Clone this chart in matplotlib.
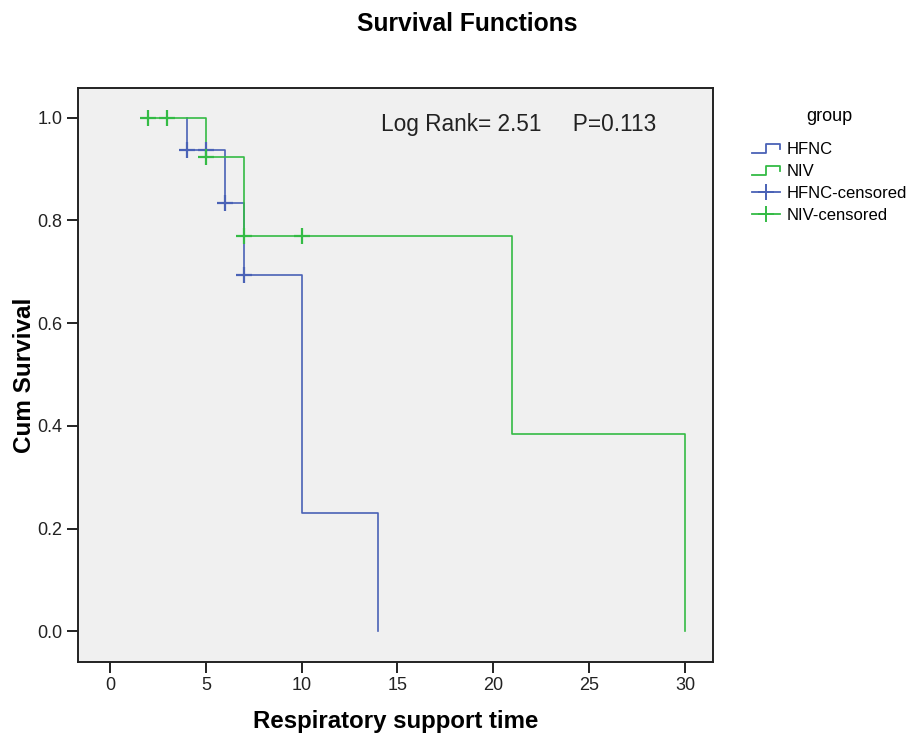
import matplotlib
matplotlib.use("Agg")
import matplotlib.pyplot as plt
from matplotlib.lines import Line2D
from matplotlib.legend_handler import HandlerBase

plt.rcParams['font.family'] = ['Liberation Sans', 'DejaVu Sans']

# Kaplan-Meier step curves
hfnc_t = [4, 4, 6, 7, 10, 14]
hfnc_s = [1.0, 0.938, 0.833, 0.694, 0.231, 0.0]
niv_t = [2, 5, 7, 21, 30]
niv_s = [1.0, 0.923, 0.769, 0.385, 0.0]

# censored observations
hfnc_cens_t = [4, 5, 6, 7]
hfnc_cens_s = [0.938, 0.938, 0.833, 0.694]
niv_cens_t = [2, 3, 5, 7, 10]
niv_cens_s = [1.0, 1.0, 0.923, 0.769, 0.769]

xticks = [0, 5, 10, 15, 20, 25, 30]
yticks = [0.0, 0.2, 0.4, 0.6, 0.8, 1.0]
legend_labels = ["HFNC", "NIV", "HFNC-censored", "NIV-censored"]

blue = "#4a62b6"
green = "#34bb45"


class StepHandler(HandlerBase):
    # small step glyph like the SPSS legend
    def create_artists(self, legend, orig_handle, xdescent, ydescent,
                       width, height, fontsize, trans):
        x0 = -xdescent
        y0 = -ydescent
        xs = [x0, x0 + 0.5 * width, x0 + 0.5 * width, x0 + width, x0 + width]
        ys = [y0 + 0.1 * height, y0 + 0.1 * height, y0 + 0.85 * height,
              y0 + 0.85 * height, y0 + 0.45 * height]
        ln = Line2D(xs, ys, color=orig_handle.get_color(), lw=1.3, transform=trans)
        return [ln]


fig = plt.figure(figsize=(9.11, 7.36), dpi=100)
ax = fig.add_axes([0.0856, 0.1005, 0.697, 0.780])
ax.set_facecolor("#f0f0f0")

l1, = ax.step(hfnc_t, hfnc_s, where="post", color=blue, lw=1.2)
l2, = ax.step(niv_t, niv_s, where="post", color=green, lw=1.2)
ax.plot(hfnc_cens_t, hfnc_cens_s, ls="none", marker="+", ms=11, mew=1.6, color=blue)
ax.plot(niv_cens_t, niv_cens_s, ls="none", marker="+", ms=11, mew=1.6, color=green)

ax.set_xlim(-1.67, 31.46)
ax.set_ylim(-0.06, 1.058)
ax.set_xticks(xticks)
ax.set_yticks(yticks)
ax.set_yticklabels([f"{v:.1f}" for v in yticks])
ax.tick_params(axis="both", direction="out", length=8, width=1.4, labelsize=13,
               colors="#222222", pad=3)
for sp in ax.spines.values():
    sp.set_linewidth(1.4)
    sp.set_color("#222222")

ax.set_xlabel("Respiratory support time", fontsize=17.3, fontweight="bold")
ax.set_ylabel("Cum Survival", fontsize=17.5, fontweight="bold")
ax.xaxis.set_label_coords(0.5, -0.083)
ax.yaxis.set_label_coords(-0.066, 0.5)

ax.text(14.14, 0.987, "Log Rank= 2.51     P=0.113", fontsize=16.3, va="center",
        ha="left", color="#222222")

fig.text(0.5126, 0.968, "Survival Functions", fontsize=17.7, fontweight="bold",
         ha="center", va="center")

h3 = Line2D([], [], color=blue, lw=1.3, marker="+", ms=11, mew=1.4)
h4 = Line2D([], [], color=green, lw=1.3, marker="+", ms=11, mew=1.4)
leg = fig.legend([l1, l2, h3, h4], legend_labels, title="group",
                 loc="upper left", bbox_to_anchor=(0.8255, 0.853),
                 frameon=False, fontsize=12, title_fontsize=13,
                 borderpad=0, borderaxespad=0,
                 handlelength=1.7, handletextpad=0.4, labelspacing=0.42,
                 handler_map={l1: StepHandler(), l2: StepHandler()})
leg._legend_box.sep = 12

fig.savefig("out.png", dpi=100)
